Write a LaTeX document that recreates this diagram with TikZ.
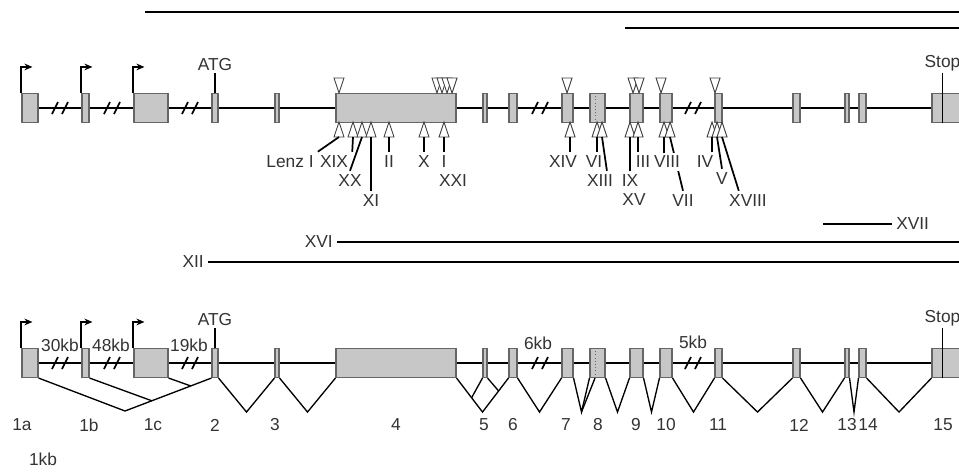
\documentclass[tikz,border=0pt]{standalone}
\usepackage{fontspec}
\setmainfont{Liberation Sans}
\usetikzlibrary{positioning, arrows.meta, calc}

\tikzset{
  exon/.style={draw=black!60, fill=black!22, line width=0.8pt, inner sep=0pt, minimum height=21.75pt},
  backbone/.style={line width=1.5pt},
  splice/.style={line width=1pt},
  stem/.style={line width=1.3pt},
  readline/.style={line width=1.8pt},
  lab/.style={inner sep=3pt, text=black!80},
  mutdown/.pic={\draw[fill=white, draw=black!75, line width=0.7pt, pic actions] (-5,-15) -- (5,-15) -- (0,0) -- cycle;},
  mutup/.pic={\draw[fill=white, draw=black!75, line width=0.7pt, pic actions] (-5,15) -- (5,15) -- (0,0) -- cycle;}
}

\begin{document}
\begin{tikzpicture}[x=0.75pt, y=-0.75pt, font=\fontsize{13}{15}\selectfont]
	\useasboundingbox (0,0) rectangle (959,471);

	% Draw the two gene models (t = top, b = bottom)
	\foreach \g/\y in {t/108, b/363} {
		\foreach \n/\xa/\xb in {1a/22/38, 1b/82/89, 1c/134/168, 2/212/218, 3/275/279, 4/336/456,
			5/483/487, 6/509/517, 7/562/573, 8/590/605, 9/630/643, 10/660/672, 11/715/722,
			12/793/800, 13/845/849, 14/859/866, 15/932/990}
			\node[exon, minimum width={(\xb-\xa)*0.75pt}] (\g\n) at ({(\xa+\xb)/2},\y) {};
		\foreach \a/\b in {1a/1b, 1b/1c, 1c/2, 2/3, 3/4, 4/5, 5/6, 6/7, 7/8, 8/9, 9/10,
			10/11, 11/12, 12/13, 13/14, 14/15}
			\draw[backbone] (\g\a.east) -- (\g\b.west);
		\draw[dotted, black!60] ($(\g8.north)+(-2.5,0)$) -- ($(\g8.south)+(-2.5,0)$);

		% promoters
		\foreach \n in {1a, 1b, 1c}
			\draw[backbone, -{Stealth[length=6pt, width=5pt]}] (\g\n.north west) -- ++(0,-26) -- ++(11,0);

		% start and stop codons
		\draw[backbone] (\g2.north) -- ++(0,-20) node[lab, above, inner sep=1pt] (\g-atg) {ATG};
		\draw[line width=1.1pt] ($(\g15.south west)+(11,0)$) -- ($(\g15.north west)+(11,-20)$)
			node[lab, above, inner sep=1pt] (\g-stop) {Stop};

		% intron breaks
		\foreach \x in {60, 112, 190, 540, 693}
			\draw[stem] (\x-8,\y+6) -- (\x-2,\y-6) (\x+2,\y+6) -- (\x+8,\y-6);
	}

	% Transcript lines
	\draw[readline] (145,12) -- (959,12);
	\draw[readline] (625,28) -- (959,28);
	\node[lab, anchor=west] (lXVII) at (892,224) {XVII};
	\coordinate (rXVII) at (823,224);
	\draw[readline] (rXVII) -- (lXVII.west);
	\node[lab, anchor=east] (lXVI) at (337,242) {XVI};
	\coordinate (rXVI) at (959,242);
	\draw[readline] (lXVI.east) -- (rXVI);
	\node[lab, anchor=east] (lXII) at (208,262) {XII};
	\coordinate (rXII) at (959,262);
	\draw[readline] (lXII.east) -- (rXII);

	% Mutations above the exons
	\foreach \x in {437, 442, 447, 452, 567, 633, 639, 715}
		\pic at (\x,93) {mutdown};
	\pic[fill=black!60] at (339,93) {mutdown};
	\pic[fill=black] at (661,93) {mutdown};

	% Mutations below the exons
	\pic[fill=black!60] at (339,122) {mutup};
	\coordinate (m339) at (339,137);
	\foreach \x in {353, 362, 371, 389, 424, 444, 570, 597, 602, 630, 638, 664, 670, 712, 717, 722} {
		\pic at (\x,122) {mutup};
		\coordinate (m\x) at (\x,137);
	}

	\node[lab] (lLenz) at (290,162) {Lenz I};
	\node[lab] (lXIX) at (334,162) {XIX};
	\node[lab] (lXX) at (350,181) {XX};
	\node[lab] (lXI) at (371,201) {XI};
	\node[lab] (lII) at (389,162) {II};
	\node[lab] (lX) at (424,162) {X};
	\node[lab] (lI) at (444,162) {I};
	\node[lab] (lXXI) at (453,181) {XXI};
	\node[lab] (lXIV) at (563,162) {XIV};
	\node[lab] (lVI) at (594,162) {VI};
	\node[lab] (lXIII) at (600,181) {XIII};
	\node[lab] (lIX) at (630,181) {IX};
	\node[lab] (lXV) at (634,200) {XV};
	\node[lab] (lIII) at (643,162) {III};
	\node[lab] (lVII) at (683,201) {VII};
	\node[lab] (lIV) at (705,162) {IV};
	\node[lab] (lV) at (722,179) {V};
	\node[lab] (lXVIII) at (748,201) {XVIII};

	\draw[stem] (m339) -- (lLenz.north east);
	\draw[stem] (m353) -- (lXIX.north east);
	\draw[stem] (m362) -- (lXX.north);
	\draw[stem] (m371) -- (lXI.north);
	\draw[stem] (m389) -- (m389 |- lII.north);
	\draw[stem] (m424) -- (m424 |- lX.north);
	\draw[stem] (m444) -- (m444 |- lI.north);
	\draw[stem] (m570) -- (m570 |- lXIV.north);
	\draw[stem] (m597) -- (m597 |- lVI.north);
	\draw[stem] (m602) -- ($(lXIII.north)!0.4!(lXIII.north east)$);
	\draw[stem] (m630) -- (m630 |- lIX.north);
	\draw[stem] (m638) -- (m638 |- lIII.north);
	\draw[stem] (m670) -- (lVII.north);
	\node[lab, fill=white, inner sep=2pt] (lVIII) at (667,162) {VIII};
	\draw[stem] (m664) -- (m664 |- lVIII.north);
	\draw[stem] (m712) -- (m712 |- lIV.north);
	\draw[stem] (m717) -- (lV.north);
	\draw[stem] (m722) -- ($(lXVIII.north west)!0.3!(lXVIII.north east)$);

	% Splicing of the bottom model
	\coordinate (v1) at (125,411);
	\draw[splice] (b1a.south east) -- (v1) -- (b2.south west);
	\draw[splice] (b1b.south east) -- ($(v1)!0.31!(b2.south west)$);
	\draw[splice] (b1c.south east) -- ($(v1)!0.76!(b2.south west)$);
	\foreach \a/\b in {2/3, 3/4, 4/6, 6/7, 7/8, 8/9, 9/10, 10/11, 11/12, 12/13, 13/14, 14/15} {
		\coordinate (v\a) at ($(b\a.south east)!0.5!(b\b.south west)+(0,34)$);
		\draw[splice] (b\a.south east) -- (v\a) -- (b\b.south west);
	}
	\draw[splice] ($(b4.south east)!0.58!(v4)$) -- (b5.south west);
	\draw[splice] (b5.south east) -- ($(v4)!0.62!(b6.south west)$);
	\draw[splice] (v7) -- ($(b8.south)+(-2.5,0)$);

	% Intron sizes
	\node[lab] (k30) at (60,345) {30kb};
	\node[lab] (k48) at (111,345) {48kb};
	\node[lab] (k19) at (189,345) {19kb};
	\node[lab] (k6) at (538,343) {6kb};
	\node[lab] (k5) at (693,342) {5kb};

	% Exon numbers
	\foreach \n/\x in {1a/22, 1b/89, 1c/153, 2/215, 3/275, 4/396, 5/484, 6/513, 7/566, 8/598,
		9/636, 10/666, 11/718, 12/799, 13/847, 14/868, 15/943}
		\node[lab] (n\n) at (\x,425) {\n};
	\node[lab] (scale) at (43,459) {1kb};
\end{tikzpicture}
\end{document}
